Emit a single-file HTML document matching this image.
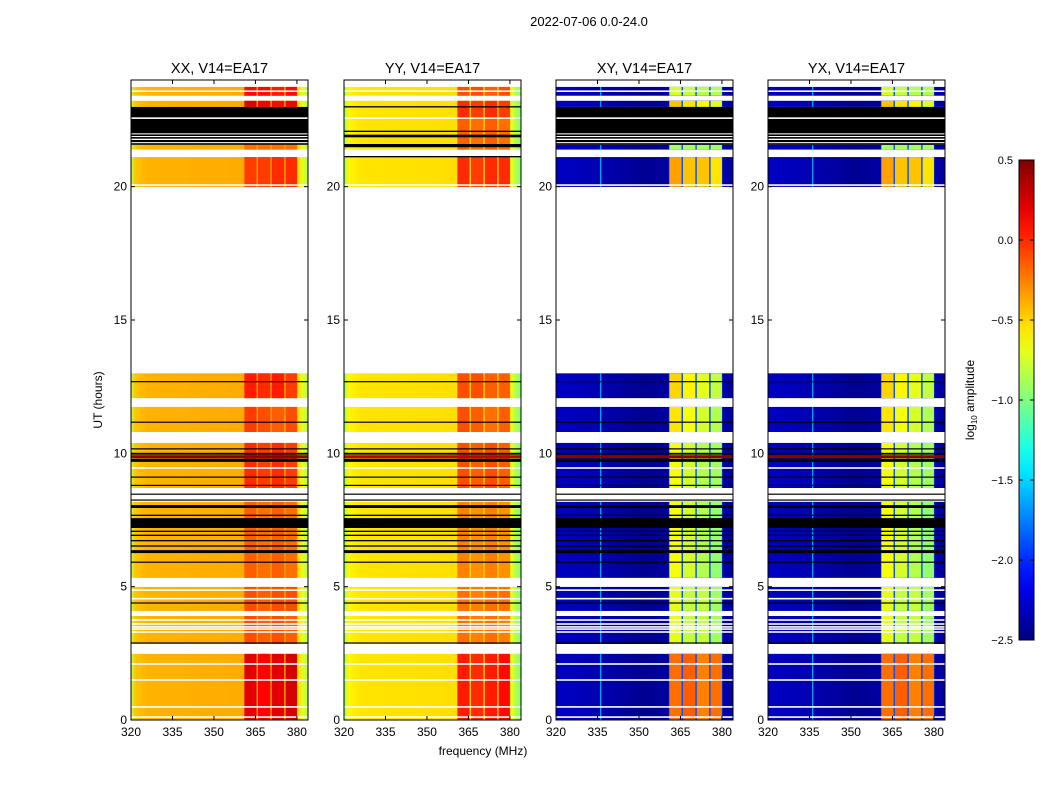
<!DOCTYPE html>
<html><head><meta charset="utf-8">
<style>
body{margin:0;background:#fff;width:1050px;height:800px;overflow:hidden;font-family:"Liberation Sans","DejaVu Sans",sans-serif;}
svg text{font-family:"Liberation Sans","DejaVu Sans",sans-serif;}
</style></head>
<body>
<svg id="fig" width="1050" height="800" xmlns="http://www.w3.org/2000/svg"></svg>
<script>
// ---------------- data ----------------
const pols = ["XX","YY","XY","YX"];
const panelTitles = ["XX, V14=EA17","YY, V14=EA17","XY, V14=EA17","YX, V14=EA17"];
const yTicks = [0,5,10,15,20];
const xTicks = [320,335,350,365,380];
const cbTicks = [0.5,0.0,-0.5,-1.0,-1.5,-2.0,-2.5];
const cbTickLabels = ["0.5","0.0","\u22120.5","\u22121.0","\u22121.5","\u22122.0","\u22122.5"];
const segsMain = [[0,2.48],[2.85,3.9],[4.09,4.99],[5.33,8.18],[8.7,10.39],[10.8,11.74],[12.07,13.0],[19.99,21.11],[21.39,21.57],[22.99,23.22],[23.41,23.74]];
const segsYY = [[0,2.48],[2.85,3.9],[4.09,4.99],[5.33,8.18],[8.7,10.39],[10.8,11.74],[12.07,13.0],[19.99,21.11],[21.39,22.54],[22.6,23.22],[23.41,23.74]];
const baseXX = -0.4, baseYY = -0.55, baseXY = -2.4, baseYX = -2.4;
const bandXX = [[0.2,0.12,0.2,0.25],[-0.1,-0.15,-0.1,-0.15],[-0.1,-0.15,-0.1,-0.1],[-0.15,-0.2,-0.15,-0.2],[0.0,-0.05,0.0,-0.05],[-0.05,-0.1,-0.15,-0.1],[0.05,0.0,0.05,-0.05],[-0.05,-0.05,0.0,0.0],[-0.2,-0.2,-0.2,-0.2],[0.2,0.15,0.1,0.15],[0.1,0.1,0.05,0.1]];
const bandYY = [[0.05,0.0,0.05,0.1],[-0.2,-0.25,-0.2,-0.25],[-0.2,-0.25,-0.2,-0.2],[-0.25,-0.3,-0.25,-0.3],[-0.1,-0.15,-0.1,-0.15],[-0.1,-0.15,-0.2,-0.15],[-0.1,-0.1,-0.15,-0.15],[0.0,-0.05,0.0,0.0],[-0.15,-0.2,-0.15,-0.2],[0.0,-0.05,0.0,-0.05],[-0.1,-0.1,-0.15,-0.1]];
const bandXY = [[-0.2,-0.15,-0.25,-0.2],[-0.7,-0.8,-0.8,-0.9],[-0.7,-0.8,-0.8,-0.9],[-0.65,-0.75,-0.85,-0.95],[-0.65,-0.75,-0.85,-0.9],[-0.55,-0.65,-0.75,-0.85],[-0.5,-0.6,-0.7,-0.8],[-0.35,-0.45,-0.45,-0.55],[-0.9,-0.9,-0.9,-0.9],[-0.45,-0.55,-0.6,-0.7],[-0.75,-0.8,-0.85,-0.85]];
const bandYX = [[-0.2,-0.15,-0.25,-0.2],[-0.7,-0.8,-0.8,-0.9],[-0.7,-0.8,-0.8,-0.9],[-0.65,-0.75,-0.85,-0.95],[-0.65,-0.75,-0.85,-0.9],[-0.55,-0.65,-0.75,-0.85],[-0.5,-0.6,-0.7,-0.8],[-0.35,-0.45,-0.45,-0.55],[-0.9,-0.9,-0.9,-0.9],[-0.45,-0.55,-0.6,-0.7],[-0.75,-0.8,-0.85,-0.85]];
const bandEdges = [[361,365.4],[365.9,370.4],[370.9,375.4],[375.9,380]];
const whiteRows = [0.11,0.49,1.5,2.1,3.3,3.41,3.49,3.6,3.75,4.55,4.87,9.45,20.06,23.58];
const blackMain = [[2.87,2.91],[4.37,4.41],[5.9,5.94],[6.26,6.37],[6.5,6.55],[6.7,6.75],[6.9,6.95],[7.05,7.1],[7.2,7.57],[7.65,7.7],[7.95,8.06],[8.23,8.27],[8.45,8.49],[8.78,8.82],[9.09,9.13],[9.68,9.8],[9.95,10.02],[10.15,10.19],[11.15,11.19],[12.67,12.71],[21.57,21.63],[21.67,21.75],[21.8,21.86],[21.9,21.96],[22.0,22.54],[22.6,22.99]];
const blackYY = [[2.87,2.91],[4.37,4.41],[5.9,5.94],[6.26,6.37],[6.5,6.55],[6.7,6.75],[6.9,6.95],[7.05,7.1],[7.2,7.57],[7.65,7.7],[7.95,8.06],[8.23,8.27],[8.45,8.49],[8.78,8.82],[9.09,9.13],[9.68,9.8],[9.95,10.02],[10.15,10.19],[11.15,11.19],[12.67,12.71],[21.1,21.15],[21.48,21.6],[21.85,21.95],[22.05,22.1],[22.97,23.02]];
const darkRedRows = [[9.82,9.93]];
const cyanLineMHz = 336;

// ---------------- helpers ----------------
const svg = document.getElementById('fig');
const NS = "http://www.w3.org/2000/svg";
function mk(tag, attrs, parent){const e=document.createElementNS(NS,tag);for(const k in attrs)e.setAttribute(k,attrs[k]);(parent||svg).appendChild(e);return e;}
function jet(v){
  let t=(v+2.5)/3; t=Math.max(0,Math.min(1,t));
  const f=(x)=>Math.max(0,Math.min(1,1.5-Math.abs(4*t-x)));
  const r=f(3),g=f(2),b=f(1);
  return `rgb(${Math.round(r*255)},${Math.round(g*255)},${Math.round(b*255)})`;
}
const panelX = [131,344,556,768], PW = 177, PT = 80, PB = 720;
const fmin=320,fmax=384;
function xs(px,f){return px+(f-fmin)/(fmax-fmin)*PW;}
function ys(h){return PB-(h/24)*(PB-PT);}

const defs = mk('defs',{});
const baseVals = {XX:baseXX,YY:baseYY,XY:baseXY,YX:baseYX};
const bandVals = {XX:bandXX,YY:bandYY,XY:bandXY,YX:bandYX};
const segsBy = {XX:segsMain,YY:segsYY,XY:segsMain,YX:segsMain};
const blackBy = {XX:blackMain,YY:blackYY,XY:blackMain,YX:blackMain};

pols.forEach(p=>{
  const g=mk('linearGradient',{id:'g'+p,x1:0,x2:1,y1:0,y2:0},defs);
  const b=baseVals[p];
  let stops;
  if(p==="XX"||p==="YY"){
    stops=[[0,b-0.4],[0.025,b-0.05],[0.1,b],[0.6,b+0.02],[0.9,b],[0.94,b-0.1],[0.97,b-0.3],[1,b-0.45]];
  } else {
    stops=[[0,b+0.1],[0.25,b+0.05],[0.5,b-0.05],[0.93,b+0.1],[0.94,b],[1,b]];
  }
  stops.forEach(s=>mk('stop',{offset:s[0],'stop-color':jet(s[1])},g));
});

const st=mk('text',{x:589,y:26,'font-size':13,'text-anchor':'middle'});
st.textContent="2022-07-06 0.0-24.0";



pols.forEach((p,pi)=>{
  const px=panelX[pi];
  const grp=mk('g',{});
  
  
  const segs=segsBy[p];
  const cross=(p==="XY"||p==="YX");
  segs.forEach((s,si)=>{
    const y1=ys(s[1]),y2=ys(s[0]);
    const r=mk('rect',{x:px,y:y1,width:PW,height:y2-y1,fill:`url(#g${p})`},grp);
    
    
    if(cross){
      const c=mk('rect',{x:xs(px,cyanLineMHz),y:y1,width:1,height:y2-y1,fill:jet(-1.5)},grp);
      
      
    }
    const gapV = cross ? -1.9 : baseVals[p]+0.05;
    const u=mk('rect',{x:xs(px,360.8),y:y1,width:xs(px,380.2)-xs(px,360.8),height:y2-y1,fill:jet(gapV)},grp);
    
    
    bandEdges.forEach((be,bi)=>{
      const v=bandVals[p][si][bi];
      const br=mk('rect',{x:xs(px,be[0]),y:y1,width:xs(px,be[1])-xs(px,be[0]),height:y2-y1,fill:jet(v)},grp);
      
      
    });
  });
  whiteRows.forEach(h=>{
    const w=mk('rect',{x:px,y:ys(h)-0.8,width:PW,height:1.6,fill:'#fff'},grp);
    
    
  });
  darkRedRows.forEach(b=>{
    const d=mk('rect',{x:px,y:ys(b[1]),width:PW,height:ys(b[0])-ys(b[1]),fill:(p==="YY"?jet(0.3):jet(0.45))},grp);
    
    
  });
  blackBy[p].forEach(b=>{
    const d=mk('rect',{x:px,y:ys(b[1]),width:PW,height:Math.max(1.2,ys(b[0])-ys(b[1])),fill:'#000'},grp);
    
    
  });
  const fr=mk('rect',{x:px,y:PT,width:PW,height:PB-PT,fill:'none',stroke:'#000','stroke-width':1},grp);
  
  
  const t=mk('text',{x:px+PW/2,y:73,'font-size':14.5,'text-anchor':'middle'},grp);
  t.textContent=panelTitles[pi];
  
  
  yTicks.forEach(v=>{
    const y=ys(v);
    mk('line',{x1:px,x2:px+4,y1:y,y2:y,stroke:'#000'},grp);
    mk('line',{x1:px+PW,x2:px+PW-4,y1:y,y2:y,stroke:'#000'},grp);
    const l=mk('text',{x:px-4,y:y+4,'font-size':12,'text-anchor':'end'},grp);
    l.textContent=v;
    
    
  });
  xTicks.forEach(v=>{
    const x=xs(px,v);
    mk('line',{x1:x,x2:x,y1:PB,y2:PB-4,stroke:'#000'},grp);
    mk('line',{x1:x,x2:x,y1:PT,y2:PT+4,stroke:'#000'},grp);
    const l=mk('text',{x:x,y:PB+16,'font-size':12,'text-anchor':'middle'},grp);
    l.textContent=v;
    
    
  });
});

const yl=mk('text',{x:102,y:400,'font-size':12,'text-anchor':'middle',transform:'rotate(-90 102 400)'});
yl.textContent="UT (hours)";


const xl=mk('text',{x:483,y:755,'font-size':12,'text-anchor':'middle'});
xl.textContent="frequency (MHz)";



const cbx=1019,cbw=15,cbt=160,cbb=640;
const cg=mk('linearGradient',{id:'cbg',x1:0,x2:0,y1:1,y2:0},defs);
for(let i=0;i<=20;i++){mk('stop',{offset:i/20,'stop-color':jet(-2.5+3*i/20)},cg);}
const cb=mk('rect',{x:cbx,y:cbt,width:cbw,height:cbb-cbt,fill:'url(#cbg)',stroke:'#000','stroke-width':1});


cbTicks.forEach((v,i)=>{
  const y=cbb-(v+2.5)/3*(cbb-cbt);
  mk('line',{x1:cbx,x2:cbx+4,y1:y,y2:y,stroke:'#000'});
  mk('line',{x1:cbx+cbw,x2:cbx+cbw-4,y1:y,y2:y,stroke:'#000'});
  const l=mk('text',{x:1013,y:y+4,'font-size':11,'text-anchor':'end'});
  l.textContent=cbTickLabels[i];
  
  
});
const cl=mk('text',{x:974,y:400,'font-size':12,'text-anchor':'middle',transform:'rotate(-90 974 400)'});
cl.innerHTML='log<tspan font-size="8" dy="3">10</tspan><tspan dy="-3"> amplitude</tspan>';


</script>
</body></html>
